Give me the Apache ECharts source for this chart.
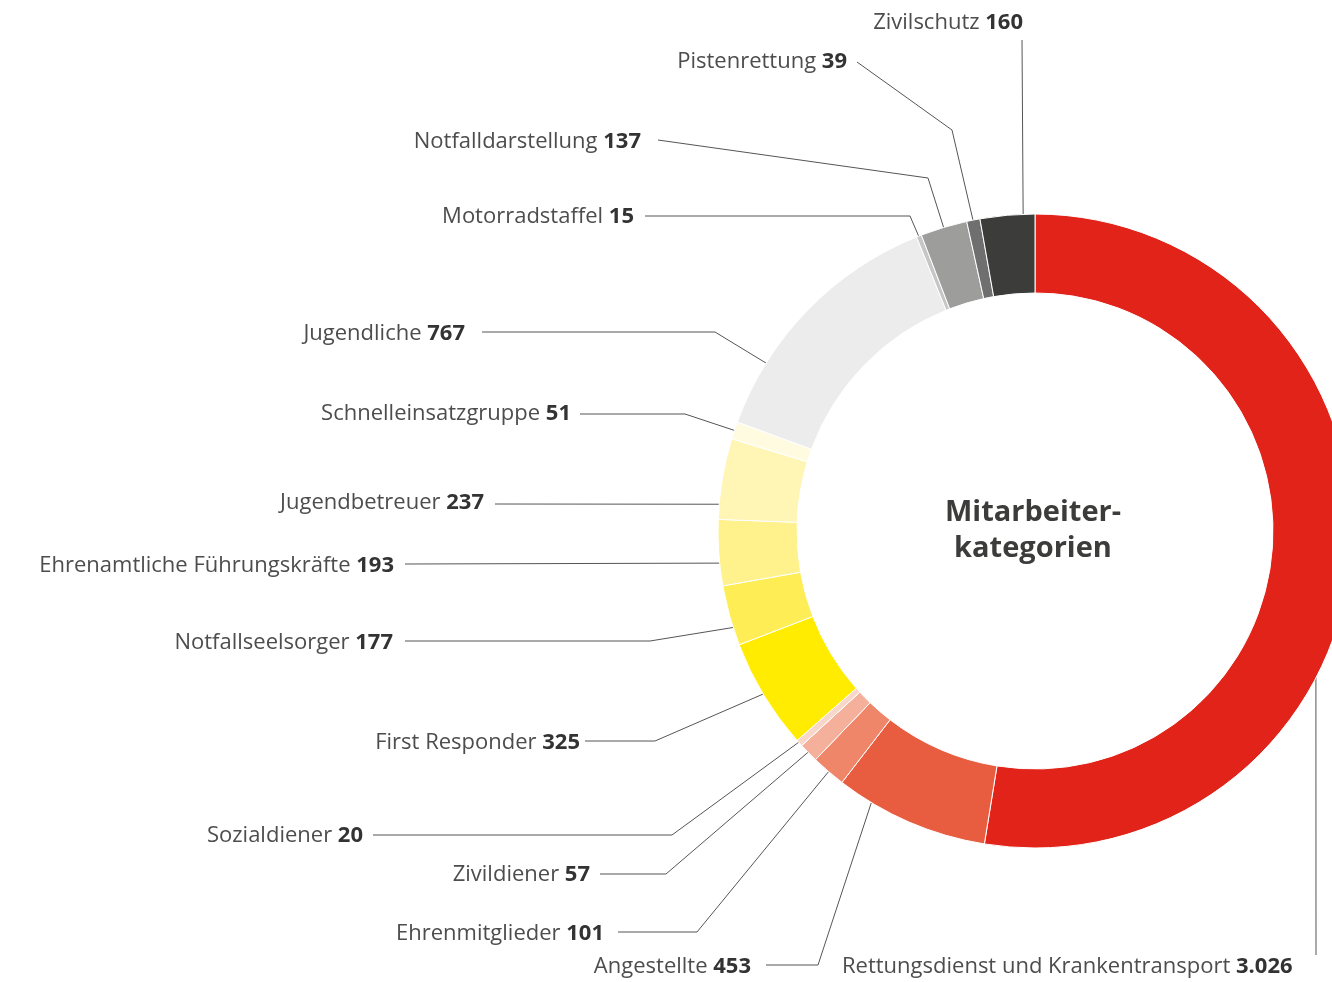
<!DOCTYPE html>
<html>
<head>
<meta charset="utf-8">
<script src="https://cdn.jsdelivr.net/npm/echarts@6/dist/echarts.min.js"></script>
<style>
  html, body { margin: 0; padding: 0; background: #fff; }
  #chart { width: 1332px; height: 982px; }
</style>
</head>
<body>
<div id="chart"></div>
<script>
// categories, clockwise from 12 o'clock
const categories = [
  'Rettungsdienst und Krankentransport',
  'Angestellte',
  'Ehrenmitglieder',
  'Zivildiener',
  'Sozialdiener',
  'First Responder',
  'Notfallseelsorger',
  'Ehrenamtliche Führungskräfte',
  'Jugendbetreuer',
  'Schnelleinsatzgruppe',
  'Jugendliche',
  'Motorradstaffel',
  'Notfalldarstellung',
  'Pistenrettung',
  'Zivilschutz',
]
const values = [3026, 453, 101, 57, 20, 325, 177, 193, 237, 51, 767, 15, 137, 39, 160]

const colors = [
  '#e2231a', '#e85c40', '#ef8669', '#f4b09a', '#f9d6ca',
  '#ffec00', '#ffed55', '#fff18b', '#fff5b5', '#fffbe0',
  '#ececec', '#c6c6c6', '#9d9d9c', '#706f6f', '#3c3c3b',
]

// layout of the callouts (label anchor, line bends toward the label)
const CENTER = [1035, 531]
const RADIUS = [238, 317]
const LINE_R = 307
const startAngleFix = { 0: 113.8, 1: 211.5, 6: 252, 7: 264, 8: 275, 10: 302, 14: 357.8 }
const labelAnchor = [
  [842, 967, 'left'], [751, 967], [604, 934], [590, 875], [363, 836],
  [580, 743], [393, 643], [394, 566], [484, 503], [571, 414],
  [465, 334], [634, 217], [641, 142], [847, 62], [1023, 23],
]
const lineBends = [
  [[1316, 955]],
  [[818, 965], [766, 965]],
  [[697, 932], [618, 932]],
  [[666, 874], [600, 874]],
  [[672, 835], [373, 835]],
  [[655, 741], [585, 741]],
  [[650, 641], [405, 641]],
  [[405, 564]],
  [[495, 504]],
  [[685, 414], [580, 414]],
  [[715, 332], [482, 332]],
  [[910, 216], [645, 216]],
  [[928, 178], [658, 140]],
  [[952, 130], [857, 62]],
  [[1022, 40]],
]

const total = values.reduce((a, b) => a + b, 0)

function fmt(v) {
  return String(v).replace(/\B(?=(\d{3})+(?!\d))/g, '.')
}

function lineStart(i) {
  let cum = 0
  for (let k = 0; k < i; k++) cum += values[k]
  let deg = (cum + values[i] / 2) / total * 360
  if (startAngleFix[i] != null) deg = startAngleFix[i]
  const rad = deg * Math.PI / 180
  return [CENTER[0] + LINE_R * Math.sin(rad), CENTER[1] - LINE_R * Math.cos(rad)]
}

const chart = echarts.init(document.getElementById('chart'))

chart.setOption({
  animation: false,
  graphic: [
    {
      type: 'text',
      x: 1033,
      y: 531,
      style: {
        text: 'Mitarbeiter-\nkategorien',
        textAlign: 'center',
        textVerticalAlign: 'middle',
        font: 'bold 29px "Open Sans"',
        lineHeight: 36,
        fill: '#3c3c3b',
      },
    },
  ],
  series: [
    {
      type: 'pie',
      center: CENTER,
      radius: RADIUS,
      startAngle: 90,
      clockwise: true,
      avoidLabelOverlap: false,
      minShowLabelAngle: 0,
      itemStyle: { borderColor: '#fff', borderWidth: 1 },
      emphasis: { disabled: true },
      data: categories.map((name, i) => ({
        name,
        value: values[i],
        itemStyle: { color: colors[i] },
      })),
      label: {
        show: true,
        formatter: p => `{n|${p.name} }{v|${fmt(p.value)}}`,
        rich: {
          n: { fontFamily: 'Open Sans', fontSize: 22, color: '#4d4d4d' },
          v: { fontFamily: 'Open Sans', fontSize: 22, fontWeight: 'bold', color: '#333' },
        },
      },
      labelLine: {
        show: true,
        length: 10,
        length2: 10,
        lineStyle: { color: '#555', width: 1 },
      },
      labelLayout: params => {
        const i = params.dataIndex
        const a = labelAnchor[i]
        return {
          x: a[0],
          y: a[1],
          align: a[2] || 'right',
          verticalAlign: 'middle',
          labelLinePoints: [lineStart(i)].concat(lineBends[i]),
        }
      },
    },
  ],
})
</script>
</body>
</html>
